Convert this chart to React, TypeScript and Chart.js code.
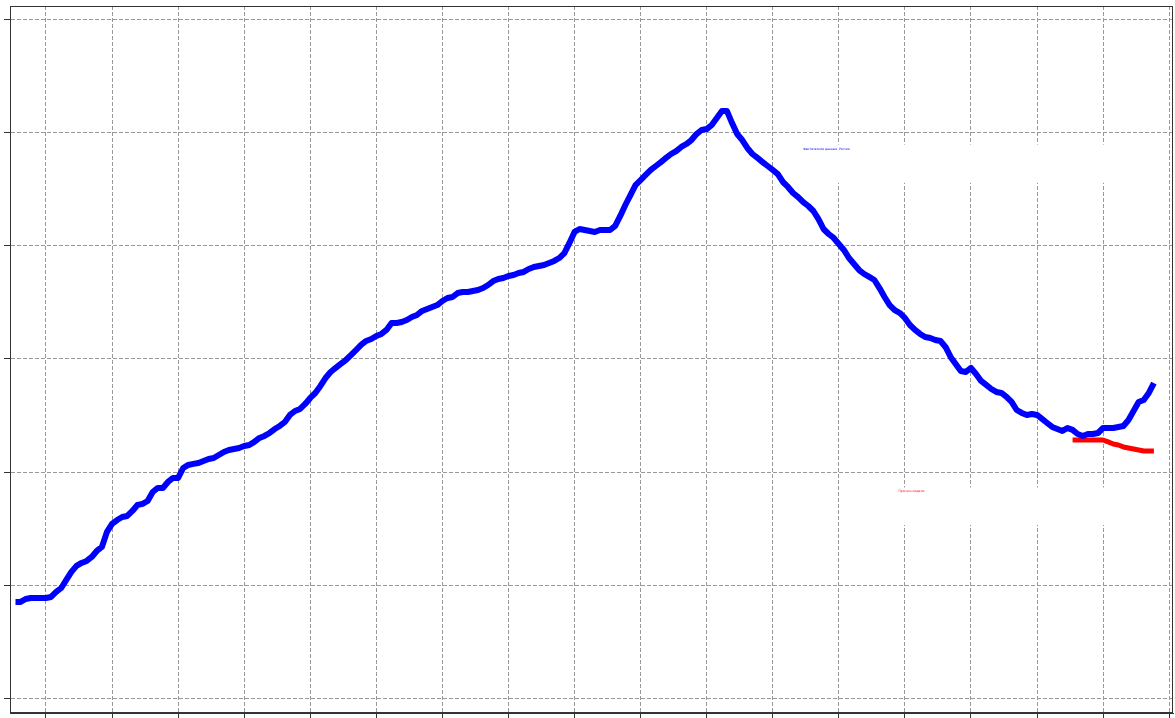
import React, { useEffect, useRef } from "react";
import { Chart, registerables } from "chart.js";

Chart.register(...registerables);

// Observed series (sampled at a uniform step; gridlines every 13 samples)
const observedValues: number[] = [
  8.56, 8.56, 8.82, 8.91, 8.91, 8.91, 8.91, 9.0, 9.44, 9.79,
  10.5, 11.21, 11.74, 12.0, 12.18, 12.53, 13.06, 13.41, 14.74, 15.44,
  15.79, 16.06, 16.15, 16.59, 17.12, 17.21, 17.47, 18.26, 18.62, 18.62,
  19.15, 19.5, 19.5, 20.38, 20.65, 20.74, 20.82, 21.0, 21.18, 21.26,
  21.53, 21.79, 21.97, 22.06, 22.15, 22.32, 22.41, 22.68, 23.03, 23.21,
  23.47, 23.82, 24.09, 24.44, 25.06, 25.41, 25.59, 26.03, 26.56, 27.0,
  27.62, 28.32, 28.85, 29.21, 29.56, 29.91, 30.35, 30.79, 31.24, 31.59,
  31.76, 32.03, 32.21, 32.56, 33.18, 33.18, 33.26, 33.44, 33.71, 33.88,
  34.24, 34.41, 34.59, 34.76, 35.12, 35.38, 35.47, 35.82, 35.91, 35.91,
  36.0, 36.09, 36.26, 36.53, 36.88, 37.06, 37.15, 37.32, 37.41, 37.59,
  37.68, 37.94, 38.12, 38.21, 38.29, 38.47, 38.65, 38.91, 39.35, 40.24,
  41.21, 41.47, 41.38, 41.29, 41.21, 41.38, 41.38, 41.38, 41.74, 42.62,
  43.59, 44.47, 45.35, 45.79, 46.24, 46.68, 47.03, 47.38, 47.74, 48.09,
  48.35, 48.71, 48.97, 49.32, 49.85, 50.21, 50.29, 50.65, 51.26, 51.88,
  51.88, 50.82, 49.85, 49.32, 48.62, 48.09, 47.74, 47.38, 47.03, 46.68,
  46.32, 45.62, 45.18, 44.65, 44.29, 43.85, 43.5, 43.06, 42.35, 41.47,
  41.03, 40.68, 40.15, 39.62, 38.91, 38.38, 37.85, 37.5, 37.24, 36.97,
  36.26, 35.47, 34.76, 34.32, 34.06, 33.62, 33.0, 32.56, 32.21, 31.94,
  31.85, 31.68, 31.59, 31.06, 30.18, 29.56, 28.94, 28.85, 29.21, 28.68,
  28.06, 27.71, 27.35, 27.09, 27.0, 26.65, 26.21, 25.5, 25.24, 25.06,
  25.15, 25.06, 24.71, 24.35, 24.0, 23.82, 23.65, 23.91, 23.74, 23.38,
  23.21, 23.38, 23.38, 23.47, 23.91, 23.91, 23.91, 24.0, 24.09, 24.62,
  25.41, 26.21, 26.38, 27.0, 27.88,
];

// Forecast series (starts at sample 208)
const forecastStart = 208;
const forecastValues: number[] = [
  22.85, 22.85, 22.85, 22.85, 22.85, 22.85, 22.85, 22.68, 22.5, 22.41,
  22.24, 22.15, 22.06, 21.97, 21.88, 21.88, 21.88,
];

const sampleOffset = 6; // first gridline falls on sample 6
const xMin = -7.08;
const xMax = 221.76;
const xStep = 13;
const yMin = -1.24;
const yMax = 61.15;
const yStep = 10;

const observedLabel = "Фактические данные, Россия";
const forecastLabel = "Прогноз модели";

export default function App() {
  const canvasRef = useRef<HTMLCanvasElement | null>(null);

  useEffect(() => {
    document.body.style.margin = "0";
    const canvas = canvasRef.current;
    if (!canvas) return;

    const observed = observedValues.map((v, i) => ({ x: i - sampleOffset, y: v }));
    const forecast = forecastValues.map((v, i) => ({
      x: forecastStart + i - sampleOffset,
      y: v,
    }));

    const boxesPlugin = {
      id: "legendBoxes",
      beforeDatasetsDraw(chart: any) {
        const { ctx, chartArea } = chart;
        const w = chartArea.right - chartArea.left;
        const h = chartArea.bottom - chartArea.top;
        ctx.save();
        ctx.fillStyle = "#ffffff";
        ctx.fillRect(chartArea.left + w * 0.678, chartArea.top + h * 0.196, w * 0.29, h * 0.054);
        ctx.fillRect(chartArea.left + w * 0.762, chartArea.top + h * 0.681, w * 0.205, h * 0.053);
        ctx.font = "3px 'DejaVu Sans'";
        ctx.textBaseline = "middle";
        ctx.fillStyle = "#0000ff";
        ctx.fillText(observedLabel, chartArea.left + w * 0.682, chartArea.top + h * 0.202);
        ctx.fillStyle = "#ff0000";
        ctx.fillText(forecastLabel, chartArea.left + w * 0.764, chartArea.top + h * 0.687);
        ctx.restore();
      },
      afterDraw(chart: any) {
        const { ctx, chartArea } = chart;
        ctx.save();
        ctx.strokeStyle = "#333333";
        ctx.lineWidth = 1;
        const l = Math.round(chartArea.left) + 0.5;
        const t = Math.round(chartArea.top) + 0.5;
        const r = Math.round(chartArea.right) - 0.5;
        const b = Math.round(chartArea.bottom) - 0.5;
        ctx.strokeRect(l, t, r - l, b - t);
        ctx.restore();
      },
    };

    const gridOpts = {
      color: "#999999",
      lineWidth: 1,
      tickColor: "#333333",
      tickBorderDash: [],
    };

    const chart = new Chart(canvas, {
      type: "line",
      data: {
        datasets: [
          {
            label: observedLabel,
            data: observed,
            borderColor: "#0000ff",
            backgroundColor: "#0000ff",
            borderWidth: 6,
            pointRadius: 0,
            tension: 0,
            borderJoinStyle: "round",
            borderCapStyle: "butt",
          },
          {
            label: forecastLabel,
            data: forecast,
            borderColor: "#ff0000",
            backgroundColor: "#ff0000",
            borderWidth: 5,
            pointRadius: 0,
            tension: 0,
            borderJoinStyle: "round",
            borderCapStyle: "butt",
          },
        ],
      },
      options: {
        responsive: false,
        animation: false,
        layout: { padding: { left: 4, top: 6, right: 2, bottom: 0 } },
        plugins: {
          legend: { display: false },
          tooltip: { enabled: false },
          title: { display: false },
        },
        scales: {
          x: {
            type: "linear",
            min: xMin,
            max: xMax,
            ticks: { display: false, stepSize: xStep, includeBounds: false },
            grid: { ...gridOpts, tickLength: 5 },
            border: { display: true, color: "#333333", width: 1, dash: [4, 2] },
          },
          y: {
            type: "linear",
            min: yMin,
            max: yMax,
            ticks: { display: false, stepSize: yStep, includeBounds: false },
            grid: { ...gridOpts, tickLength: 6 },
            border: { display: true, color: "#333333", width: 1, dash: [4, 2] },
          },
        },
      },
      plugins: [boxesPlugin],
    } as any);

    return () => chart.destroy();
  }, []);

  return (
    <div style={{ width: 1175, height: 718 }}>
      <canvas ref={canvasRef} width={1175} height={718} style={{ display: "block" }} />
    </div>
  );
}
